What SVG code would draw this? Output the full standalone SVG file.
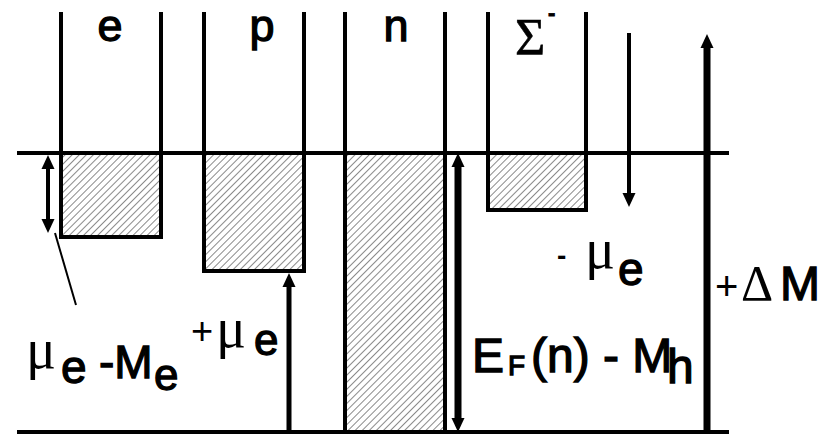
<svg xmlns="http://www.w3.org/2000/svg" width="837" height="434" viewBox="0 0 837 434">
<style>
.ln{stroke:#000;stroke-width:4;fill:none}
.box{fill:url(#hatch);stroke:#000;stroke-width:4}
.lbl{font-family:"Liberation Sans",Arial,sans-serif;fill:#000;stroke:#000;stroke-width:1.3}
.bold{font-family:"Liberation Sans",Arial,sans-serif;font-weight:bold;fill:#000}
.reg{font-family:"Liberation Sans",Arial,sans-serif;fill:#000}
.gr{font-family:"Liberation Serif","Times New Roman",serif;fill:#000}
.arr{stroke:#000;fill:none}
</style>
<defs>
<pattern id="hatch" patternUnits="userSpaceOnUse" width="5" height="5" patternTransform="rotate(45)">
<rect width="5" height="5" fill="#fff"/>
<line x1="0" y1="0" x2="0" y2="5" stroke="#3a3a3a" stroke-width="1.2"/>
</pattern>
<marker id="ah" markerUnits="userSpaceOnUse" markerWidth="16" markerHeight="16" viewBox="0 -8 16 16" refX="0" refY="0" orient="auto-start-reverse">
<path d="M0,-6.5 L14,0 L0,6.5 z" fill="#000"/>
</marker>
</defs>
<rect width="837" height="434" fill="#fff"/>

<g id="col-e">
<rect class="box" x="61" y="153" width="100" height="84"/>
<line class="ln" x1="61" y1="12" x2="61" y2="153"/>
<line class="ln" x1="161" y1="12" x2="161" y2="153"/>
<text class="lbl" x="110" y="41" font-size="45" text-anchor="middle">e</text>
</g>
<g id="col-p">
<rect class="box" x="204" y="153" width="100" height="118"/>
<line class="ln" x1="204" y1="12" x2="204" y2="153"/>
<line class="ln" x1="304" y1="12" x2="304" y2="153"/>
<text class="lbl" x="262" y="41" font-size="45" text-anchor="middle">p</text>
</g>
<g id="col-n">
<rect class="box" x="345" y="153" width="100" height="279"/>
<line class="ln" x1="345" y1="12" x2="345" y2="153"/>
<line class="ln" x1="445" y1="12" x2="445" y2="153"/>
<text class="lbl" x="396" y="41" font-size="45" text-anchor="middle">n</text>
</g>
<g id="col-sigma">
<rect class="box" x="488" y="153" width="98" height="57"/>
<line class="ln" x1="488" y1="12" x2="488" y2="153"/>
<line class="ln" x1="586" y1="12" x2="586" y2="153"/>
<text x="515" y="55"><tspan class="gr" font-size="52" stroke="#000" stroke-width="0.6">Σ</tspan><tspan class="bold" font-size="22" x="548" y="20" stroke="#000" stroke-width="0.8">-</tspan></text>
</g>

<g id="levels">
<line class="ln" x1="17" y1="153" x2="729" y2="153"/>
<line class="ln" x1="17" y1="432" x2="729" y2="432"/>
</g>

<g id="connectors">
<line class="arr" stroke-width="4" x1="48" y1="169" x2="48" y2="219" marker-start="url(#ah)" marker-end="url(#ah)"/>
<line class="arr" stroke-width="2" x1="55" y1="233" x2="76" y2="305"/>
<line class="arr" stroke-width="5" x1="289" y1="432" x2="289" y2="287" marker-end="url(#ah)"/>
<line class="arr" stroke-width="7" x1="458" y1="167" x2="458" y2="418" marker-start="url(#ah)" marker-end="url(#ah)"/>
<line class="arr" stroke-width="4" x1="629" y1="33" x2="629" y2="193" marker-end="url(#ah)"/>
<line class="arr" stroke-width="7" x1="707" y1="432" x2="707" y2="48" marker-end="url(#ah)"/>
</g>

<g id="label-mue-me">
<text y="368"><tspan class="gr" font-size="56" x="26">μ</tspan><tspan class="lbl" font-size="46" x="61" y="383">e</tspan><tspan class="lbl" font-size="46" x="99" y="378">-M</tspan><tspan class="lbl" font-size="44" x="154" y="390">e</tspan></text>
</g>
<g id="label-plus-mue">
<text y="344"><tspan class="reg" font-size="38" x="191">+</tspan><tspan class="gr" font-size="56" x="216" y="347">μ</tspan><tspan class="lbl" font-size="44" x="254" y="355">e</tspan></text>
</g>
<g id="label-minus-mue">
<text y="268"><tspan class="bold" font-size="28" x="557" y="265">-</tspan><tspan class="gr" font-size="56" x="585" y="268">μ</tspan><tspan class="lbl" font-size="46" x="618" y="285">e</tspan></text>
</g>
<g id="label-ef">
<text y="372"><tspan class="lbl" font-size="48" x="472">E</tspan><tspan class="lbl" font-size="28" x="508" y="375">F</tspan><tspan class="lbl" font-size="48" x="531" y="372">(n) - M</tspan><tspan class="lbl" font-size="48" x="667" y="383">h</tspan></text>
</g>
<g id="label-dm">
<text y="300"><tspan class="reg" font-size="40" x="715">+</tspan><tspan class="gr" font-size="50" x="741">Δ</tspan><tspan class="lbl" font-size="48" x="780">M</tspan></text>
</g>
</svg>
